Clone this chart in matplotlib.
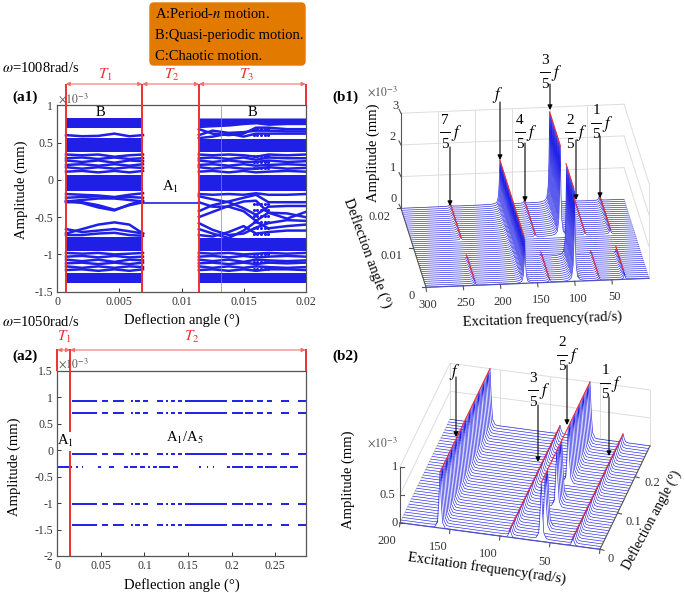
import numpy as np
import matplotlib
matplotlib.use('Agg')
import matplotlib.pyplot as plt
from matplotlib.patches import FancyBboxPatch

plt.rcParams['font.family'] = ['Liberation Serif', 'DejaVu Serif']
plt.rcParams['mathtext.fontset'] = 'stix'

BLUE = '#1f1fe6'
RED = '#f03030'
GREY = '#555555'
W, H = 685, 593

# (a1) bifurcation diagram
a1_edges = [0.0007, 0.0069, 0.0114, 0.02]
a1_period1 = -0.315
t1_x = [0.0007, 0.0020, 0.0033, 0.0046, 0.0058, 0.0069]
t3_x = [0.0114, 0.0125, 0.0138, 0.015, 0.016, 0.017, 0.0185, 0.02]
t1_bands = [(0.83, 0.69), (0.56, 0.37), (0.07, -0.15), (-0.76, -0.95), (-1.25, -1.38)]
t3_bands = [(0.55, 0.37), (0.07, -0.15), (-0.78, -0.95), (-1.25, -1.38)]
t3_top_edge = [0.70, 0.71, 0.72, 0.74, 0.75, 0.73, 0.74, 0.74]
t1_curves = [
    [0.60, 0.585, 0.59, 0.62, 0.585, 0.60],
    [0.34, 0.33, 0.34, 0.31, 0.33, 0.34],
    [0.29, 0.30, 0.28, 0.30, 0.28, 0.29],
    [0.26, 0.24, 0.26, 0.23, 0.26, 0.25],
    [0.20, 0.21, 0.19, 0.21, 0.19, 0.21],
    [0.17, 0.15, 0.17, 0.15, 0.17, 0.16],
    [0.11, 0.12, 0.10, 0.12, 0.10, 0.12],
    [-0.19, -0.20, -0.21, -0.23, -0.20, -0.18],
    [-0.24, -0.23, -0.22, -0.24, -0.23, -0.24],
    [-0.29, -0.27, -0.25, -0.25, -0.27, -0.29],
    [-0.30, -0.30, -0.34, -0.40, -0.34, -0.30],
    [-0.28, -0.31, -0.37, -0.41, -0.33, -0.28],
    [-0.72, -0.66, -0.60, -0.57, -0.60, -0.72],
    [-0.66, -0.70, -0.68, -0.66, -0.69, -0.72],
    [-0.74, -0.74, -0.72, -0.71, -0.74, -0.75],
    [-0.98, -0.99, -0.98, -1.00, -0.99, -0.98],
    [-1.03, -1.02, -1.04, -1.02, -1.04, -1.03],
    [-1.07, -1.09, -1.07, -1.10, -1.07, -1.08],
    [-1.12, -1.11, -1.13, -1.11, -1.13, -1.11],
    [-1.16, -1.18, -1.16, -1.18, -1.16, -1.17],
    [-1.21, -1.20, -1.22, -1.20, -1.22, -1.20],
]
t3_curves = [
    [0.68, 0.62, 0.60, 0.62, 0.70, 0.70, 0.68, 0.68],
    [0.60, 0.66, 0.63, 0.64, 0.66, 0.66, 0.65, 0.65],
    [0.56, 0.58, 0.62, 0.58, 0.62, 0.62, 0.62, 0.62],
    [0.34, 0.33, 0.34, 0.33, 0.31, 0.34, 0.33, 0.34],
    [0.29, 0.30, 0.28, 0.30, 0.27, 0.30, 0.29, 0.29],
    [0.26, 0.24, 0.26, 0.24, 0.24, 0.26, 0.24, 0.25],
    [0.20, 0.21, 0.19, 0.21, 0.19, 0.20, 0.21, 0.20],
    [0.17, 0.15, 0.17, 0.15, 0.15, 0.17, 0.15, 0.16],
    [0.11, 0.12, 0.10, 0.12, 0.10, 0.11, 0.12, 0.11],
    [-0.19, -0.20, -0.19, -0.20, -0.18, -0.20, -0.20, -0.19],
    [-0.22, -0.26, -0.30, -0.38, -0.47, -0.36, -0.35, -0.35],
    [-0.30, -0.36, -0.36, -0.42, -0.55, -0.44, -0.45, -0.50],
    [-0.50, -0.43, -0.35, -0.29, -0.28, -0.44, -0.52, -0.43],
    [-0.42, -0.34, -0.29, -0.24, -0.20, -0.30, -0.30, -0.30],
    [-0.58, -0.67, -0.74, -0.72, -0.64, -0.58, -0.54, -0.55],
    [-0.66, -0.72, -0.78, -0.68, -0.56, -0.65, -0.62, -0.60],
    [-0.74, -0.76, -0.70, -0.62, -0.72, -0.70, -0.68, -0.68],
    [-0.98, -0.99, -0.98, -1.00, -0.99, -0.98, -0.99, -0.98],
    [-1.03, -1.02, -1.04, -1.02, -1.04, -1.03, -1.02, -1.03],
    [-1.07, -1.09, -1.07, -1.10, -1.07, -1.08, -1.09, -1.08],
    [-1.12, -1.11, -1.13, -1.11, -1.13, -1.11, -1.12, -1.11],
    [-1.16, -1.18, -1.16, -1.18, -1.16, -1.17, -1.18, -1.17],
    [-1.21, -1.20, -1.22, -1.20, -1.22, -1.20, -1.20, -1.21],
]
lattice_x = [0.0158, 0.0161, 0.0164, 0.0167, 0.0170]
lattice_y = [-0.32, -0.40, -0.48, -0.56, -0.64, -0.72, 0.68, 0.60, 0.32, 0.24, 0.16, -1.0, -1.1, -1.2]

# (a2) bifurcation diagram
a2_switch = 0.0145
a2_levels = [0.93, 0.70, -0.08, -1.01, -1.42]
a2_runs = [(0.0165, 0.0451), (0.0509, 0.0585), (0.0643, 0.0765), (0.0842, 0.0872),
           (0.0891, 0.0949), (0.0987, 0.1044), (0.114, 0.1217), (0.1243, 0.1274),
           (0.13, 0.135), (0.1389, 0.1427), (0.1465, 0.1944), (0.2009, 0.2135),
           (0.2154, 0.225), (0.2288, 0.2364), (0.2403, 0.246), (0.2567, 0.2663),
           (0.2766, 0.285)]
a2_mid_level = -0.31
a2_mid_runs = [(0, 0.0165), (0.0215, 0.0241), (0.028, 0.03), (0.0471, 0.0501),
               (0.0597, 0.0654), (0.0769, 0.0815), (0.0834, 0.091), (0.0949, 0.1006),
               (0.1044, 0.1064), (0.1102, 0.114), (0.1171, 0.1293), (0.1331, 0.1389),
               (0.1630, 0.1649), (0.1722, 0.1733), (0.1783, 0.1799), (0.1944, 0.1983),
               (0.2001, 0.2135), (0.2154, 0.225), (0.2288, 0.2364), (0.2383, 0.2517),
               (0.2556, 0.2632), (0.2671, 0.2759)]

# (b1) waterfall
b1_freq_ticks = [300, 250, 200, 150, 100, 50]
b1_amp_ticks = [0, 1, 2, 3]
b1_freqs = [234, 167, 134, 100, 67, 33]
b1_heights = [0.10, 1.40, 0.10, 2.85, 0.08, 0.18]
b1_angles = np.arange(0, 0.0201, 0.0005)

# (b2) waterfall
b2_freq_ticks = [200, 150, 100, 50, 0]
b2_amp_ticks = [0, 0.5, 1]
b2_freqs = [160, 90, 27]
b2_heights = [1.0, 0.15, 0.15]
b2_two_fifths = 60
b2_two_fifths_on = [0, 1, 0, 0, 1, 1, 1, 0, 0, 0, 0, 0, 0, 1, 1, 1, 1, 1, 0, 0,
                    0, 0, 1, 1, 1, 1, 1, 1, 1, 1, 1, 1, 1, 1, 1, 1, 1, 1, 1, 1]
b2_angles = np.linspace(0, 0.285, 40)

# resonance shape shared by the waterfall peaks
peak_offset = [-60, -35, -20, -12, -7, -4, -2, -1, 0, 1, 2, 4, 7, 12, 20, 35, 60]
peak_shape_b1 = [0, 0.001, 0.003, 0.008, 0.02, 0.05, 0.18, 0.45, 1, 0.45, 0.18, 0.05, 0.02, 0.008, 0.003, 0.001, 0]
peak_shape_b2 = [0, 0, 0, 0, 0, 0.01, 0.1, 0.45, 1, 0.45, 0.1, 0.01, 0, 0, 0, 0, 0]


def px_to_fig(x0, y0, x1, y1):
    return [x0 / W, 1 - y1 / H, (x1 - x0) / W, (y1 - y0) / H]


fig = plt.figure(figsize=(W / 100, H / 100), dpi=100)

# ---- a1
ax1 = fig.add_axes(px_to_fig(57.3, 105.3, 305.7, 291.7))
for i in range(len(t1_bands)):
    ax1.fill_between([a1_edges[0], a1_edges[1]], t1_bands[i][0], t1_bands[i][1], color=BLUE, lw=0)
ax1.fill_between(t3_x, t3_top_edge, 0.83, color=BLUE, lw=0)
for b in t3_bands:
    ax1.fill_between([a1_edges[2], a1_edges[3]], b[0], b[1], color=BLUE, lw=0)
for c in t1_curves:
    ax1.plot(t1_x, c, color=BLUE, lw=1.8)
for c in t3_curves:
    ax1.plot(t3_x, c, color=BLUE, lw=1.8)
ax1.plot(a1_edges[1:3], [a1_period1, a1_period1], color=BLUE, lw=1.2)
lx, ly = np.meshgrid(lattice_x, lattice_y)
ax1.scatter(lx, ly, s=5, color=BLUE, lw=0)
ax1.axvline(0.0132, color='#8080ee', lw=0.5, zorder=3)
ax1.set_xlim(0, 0.02)
ax1.set_ylim(-1.5, 1)
ax1.set_xticks([0, 0.005, 0.01, 0.015, 0.02], ['0', '0.005', '0.01', '0.015', '0.02'])
ax1.set_yticks([-1.5, -1, -0.5, 0, 0.5, 1], ['-1.5', '-1', '-0.5', '0', '0.5', '1'])

# ---- a2
ax2 = fig.add_axes(px_to_fig(57.3, 370.7, 305.7, 556))
for lev in a2_levels:
    for r in a2_runs:
        ax2.plot(r, [lev, lev], color=BLUE, lw=1.4, solid_capstyle='butt')
for r in a2_mid_runs:
    ax2.plot(r, [a2_mid_level, a2_mid_level], color=BLUE, lw=1.4, solid_capstyle='butt')
ax2.set_xlim(0, 0.285)
ax2.set_ylim(-2, 1.5)
ax2.set_xticks([0, 0.05, 0.1, 0.15, 0.2, 0.25], ['0', '0.05', '0.1', '0.15', '0.2', '0.25'])
ax2.set_yticks([-2, -1.5, -1, -0.5, 0, 0.5, 1, 1.5], ['-2', '-1.5', '-1', '-0.5', '0', '0.5', '1', '1.5'])

for ax in (ax1, ax2):
    ax.tick_params(direction='in', length=3, width=0.7, colors='#333333', labelsize=8.5, pad=3)
    for s in ax.spines.values():
        s.set_color(GREY)
        s.set_linewidth(0.9)

# ---- overlay in pixel coordinates for the 3D panels and the annotations
ov = fig.add_axes([0, 0, 1, 1], zorder=5)
ov.set_xlim(0, W)
ov.set_ylim(H, 0)
ov.axis('off')


def make_proj(front_left, back_left, front_right, fmax, fmin, amax, zscale):
    fl = np.array(front_left, float)
    u = np.array(front_right, float) - fl
    v = np.array(back_left, float) - fl

    def proj(f, a, z):
        s = (fmax - np.asarray(f, float)) / (fmax - fmin)
        t = np.asarray(a, float) / amax
        return fl[0] + s * u[0] + t * v[0], fl[1] + s * u[1] + t * v[1] - np.asarray(z, float) * zscale
    return proj


def grid3d(proj, fticks, zticks, fmax, fmin, amax, zmax, wall_f):
    c = '#dddddd'
    for z in zticks:
        x, y = proj([fmax, fmin], [amax, amax], [z, z])
        ov.plot(x, y, color=c, lw=0.7)
        x, y = proj([wall_f, wall_f], [0, amax], [z, z])
        ov.plot(x, y, color=c, lw=0.7)
    for f in fticks:
        x, y = proj([f, f], [amax, amax], [0, zmax])
        ov.plot(x, y, color=c, lw=0.7)
    x, y = proj([wall_f, wall_f], [0, 0], [0, zmax])
    ov.plot(x, y, color=c, lw=0.7)


def tick3d(proj, f, a, dx, dy):
    x, y = proj(f, a, 0)
    ov.plot([x, x + dx], [y, y + dy], color=GREY, lw=0.8, zorder=4)


# ---- b1 panel
p1 = make_proj((426, 287.3), (401, 208.3), (649, 278.3), 300, 0, 0.02, 31.7)
grid3d(p1, b1_freq_ticks, b1_amp_ticks, 300, 0, 0.02, 3, 0)
f_grid1 = np.arange(0, 300.5, 0.5)
for i, a in enumerate(b1_angles[::-1]):
    in_t2 = a1_edges[1] < a < a1_edges[2]
    amp = np.zeros_like(f_grid1)
    for fr, h in zip(b1_freqs, b1_heights):
        if in_t2 and fr != 167:
            continue
        amp = amp + h * np.interp(f_grid1, np.array(peak_offset) + fr, peak_shape_b1)
    x, y = p1(f_grid1, a, amp)
    x0, y0 = p1(f_grid1, a, 0)
    ov.fill_between(x, y, y0, color='white', lw=0, zorder=3 + i * 0.01)
    ov.plot(x, y, color=BLUE, lw=0.45, zorder=3 + i * 0.01)
for fr, h in zip(b1_freqs, b1_heights):
    if fr == 167:
        continue
    for lo, hi in ((a1_edges[2], a1_edges[3]), (a1_edges[0], a1_edges[1])):
        x, y = p1([fr, fr], [lo, hi], [h, h])
        ov.plot(x, y, color=RED, lw=0.8, zorder=4)
x, y = p1([167, 167], [a1_edges[0], 0.02], [1.40, 1.40])
ov.plot(x, y, color=RED, lw=0.8, zorder=4)
x, y = p1([300, 300], [0, 0.02], [0, 0])
ov.plot(x, y, color=GREY, lw=0.8, zorder=4)
x, y = p1([300, 0], [0, 0], [0, 0])
ov.plot(x, y, color='#5050c0', lw=0.9, zorder=4)
x, y = p1([300, 300], [0.02, 0.02], [0, 3])
ov.plot(x, y, color=GREY, lw=0.8, zorder=4)
for f in b1_freq_ticks:
    tick3d(p1, f, 0, 0.5, 4)
for a in [0, 0.01, 0.02]:
    tick3d(p1, 300, a, -4, 0)
for z in b1_amp_ticks:
    x, y = p1(300, 0.02, z)
    ov.plot([x, x - 2], [y, y - 4], color=GREY, lw=0.8, zorder=4)

# ---- b2 panel
p2 = make_proj((400, 522.7), (450, 419.3), (600, 549.3), 200, 0, 0.285, 56)
grid3d(p2, b2_freq_ticks, b2_amp_ticks, 200, 0, 0.285, 1, 200)
f_grid2 = np.arange(0, 200.25, 0.25)
for i, a in enumerate(b2_angles[::-1]):
    j = len(b2_angles) - 1 - i
    amp = np.zeros_like(f_grid2)
    for fr, h in zip(b2_freqs, b2_heights):
        amp = amp + h * np.interp(f_grid2, np.array(peak_offset) * 1.3 + fr, peak_shape_b2)
    if b2_two_fifths_on[j]:
        amp = amp + np.interp(f_grid2, np.array(peak_offset) * 1.3 + b2_two_fifths, peak_shape_b2)
    x, y = p2(f_grid2, a, amp)
    x0, y0 = p2(f_grid2, a, 0)
    ov.fill_between(x, y, y0, color='white', lw=0, zorder=3 + i * 0.01)
    ov.plot(x, y, color=BLUE, lw=0.45, zorder=3 + i * 0.01)
for fr, h in [(160, 1.0), (90, 0.15), (60, 1.0), (27, 0.15)]:
    a_lo = b2_angles[1] if fr == 60 else 0.0
    x, y = p2([fr, fr], [a_lo, 0.285], [h, h])
    ov.plot(x, y, color=RED, lw=0.8, zorder=4)
x, y = p2([200, 0], [0, 0], [0, 0])
ov.plot(x, y, color='#5050c0', lw=0.9, zorder=4)
x, y = p2([200, 200], [0, 0], [0, 1])
ov.plot(x, y, color=GREY, lw=0.8, zorder=4)
x, y = p2([0, 0], [0, 0.285], [0, 0])
ov.plot(x, y, color=GREY, lw=0.8, zorder=4)
for z in b2_amp_ticks:
    x, y = p2(200, 0, z)
    ov.plot([x, x + 4], [y, y], color=GREY, lw=0.8, zorder=4)
for f in b2_freq_ticks:
    tick3d(p2, f, 0, -0.5, 4)
for a in [0, 0.1, 0.2]:
    tick3d(p2, 0, a, 4, 1)


# ---- annotations
def txt(x, y, s, size=10.5, color='black', **kw):
    kw.setdefault('ha', 'center')
    kw.setdefault('va', 'center')
    ov.text(x, y, s, fontsize=size, color=color, zorder=9, **kw)


def span(x0, x1, y):
    ov.annotate('', xy=(x1, y), xytext=(x0, y), zorder=8,
                arrowprops=dict(arrowstyle='<|-|>', color='#f47070', lw=0.8, shrinkA=0, shrinkB=0, mutation_scale=6))


def red_v(x, y0, y1, lw=1.4):
    ov.plot([x, x], [y0, y1], color=RED, lw=lw, zorder=8, solid_capstyle='butt')


def arrow(x, y0, y1):
    ov.annotate('', xy=(x, y1), xytext=(x, y0), zorder=10,
                arrowprops=dict(arrowstyle='-|>', color='black', lw=0.8, shrinkA=0, shrinkB=0,
                                mutation_scale=7, edgecolor='#555555', facecolor='black'))


def frac(x, y, num, den='5'):
    txt(x, y - 12, num, 11)
    ov.plot([x - 5, x + 5], [y, y], color='black', lw=0.7, zorder=9)
    txt(x, y + 12, den, 11)
    txt(x + 12, y + 1, '$f$', 12)


# legend box
ov.add_patch(FancyBboxPatch((150, 3), 155, 62, boxstyle='round,pad=0,rounding_size=4',
                            fc='#e27a00', ec='#e27a00', zorder=8))
txt(155, 14, 'A:Period-$n$ motion.', 10.5, ha='left')
txt(155, 35, 'B:Quasi-periodic motion.', 10.5, ha='left')
txt(155, 57, 'C:Chaotic motion.', 10.5, ha='left')

# a1 text
txt(2, 68, r'$\omega$=1008rad/s', 10.5, ha='left')
txt(25, 97, '(a1)', 11, fontweight='bold')
txt(58, 99, r'$\times 10^{-3}$', 8.5, color=GREY, ha='left')
txt(21, 190, 'Amplitude (mm)', 10.5, rotation=90)
txt(182, 320, 'Deflection angle (°)', 10.5)
txt(100, 112, 'B', 10.5)
txt(252, 112, 'B', 10.5)
txt(170, 187, r'A$_{1}$', 10.5)
for xp in (65.7, 142.3, 199):
    red_v(xp, 84, 291.7)
red_v(305.7, 84, 105.3)
span(65.7, 142.3, 84)
span(142.3, 199, 84)
span(199, 305.7, 84)
txt(105, 75, r'$T_1$', 11, RED)
txt(172, 75, r'$T_2$', 11, RED)
txt(247, 75, r'$T_3$', 11, RED)

# a2 text
txt(2, 322, r'$\omega$=1050rad/s', 10.5, ha='left')
txt(25, 356, '(a2)', 11, fontweight='bold')
txt(58, 364, r'$\times 10^{-3}$', 8.5, color=GREY, ha='left')
txt(14, 467, 'Amplitude (mm)', 10.5, rotation=90)
txt(182, 585, 'Deflection angle (°)', 10.5)
txt(65, 441, r'A$_{1}$', 10.5)
txt(185, 438, r'A$_{1}$/A$_{5}$', 10.5)
red_v(57.3, 349, 370.7)
red_v(305.7, 349, 370.7)
red_v(70, 349, 431.7)
red_v(70, 451, 556)
span(57.3, 70, 350)
span(70, 305.7, 350)
txt(64, 337, r'$T_1$', 11, RED)
txt(192, 337, r'$T_2$', 11, RED)

# b1 text
txt(345, 97, '(b1)', 11, fontweight='bold')
txt(367, 92, r'$\times 10^{-3}$', 8.5, color=GREY, ha='left')
for z, xp, yp in zip(b1_amp_ticks, (394, 393, 393, 396), (199, 168, 137, 106)):
    txt(xp, yp, str(z), 9, '#333333')
txt(373, 153, 'Amplitude (mm)', 10.5, rotation=90)
txt(367, 253, 'Deflection angle (°)', 10.5, rotation=-70)
for s, xp, yp in (('0.02', 380, 217), ('0.01', 392, 256), ('0', 412, 296)):
    txt(xp, yp, s, 9, '#333333')
for f, xp, yp in zip(b1_freq_ticks, (428, 466, 503, 541, 578, 615), (305, 303, 302, 300, 299, 297)):
    txt(xp, yp, str(f), 9, '#333333')
txt(542, 319, 'Excitation frequency(rad/s)', 10.5, rotation=2)
frac(445, 132, '7')
frac(520, 132, '4')
frac(545, 72, '3')
frac(570, 132, '2')
frac(596, 123, '1')
txt(498, 95, '$f$', 12)
arrow(450, 147, 206)
arrow(500, 102, 160)
arrow(525, 143, 202)
arrow(550, 84, 110)
arrow(576, 140, 200)
arrow(600, 136, 198)

# b2 text
txt(345, 356, '(b2)', 11, fontweight='bold')
txt(367, 443, r'$\times 10^{-3}$', 8.5, color=GREY, ha='left')
for s, xp, yp in (('1', 395, 467), ('0.5', 387, 495), ('0', 395, 523)):
    txt(xp, yp, s, 9, '#333333')
txt(348, 480, 'Amplitude (mm)', 10.5, rotation=90)
for s, xp, yp in (('200', 387, 541), ('150', 438, 547), ('100', 488, 554), ('50', 545, 562)):
    txt(xp, yp, s, 9, '#333333')
txt(487, 568, 'Excitation frequency(rad/s)', 10.5, rotation=-8)
for s, xp, yp in (('0', 611, 559), ('0.1', 633, 522), ('0.2', 652, 483)):
    txt(xp, yp, s, 9, '#333333')
txt(652, 520, 'Deflection angle (°)', 10, rotation=62)
txt(455, 372, '$f$', 12)
frac(533, 390, '3')
frac(562, 355, '2')
frac(605, 383, '1')
arrow(456, 377, 437)
arrow(538, 405, 462)
arrow(567, 365, 425)
arrow(609, 397, 456)

fig.savefig('out.png', dpi=100)
